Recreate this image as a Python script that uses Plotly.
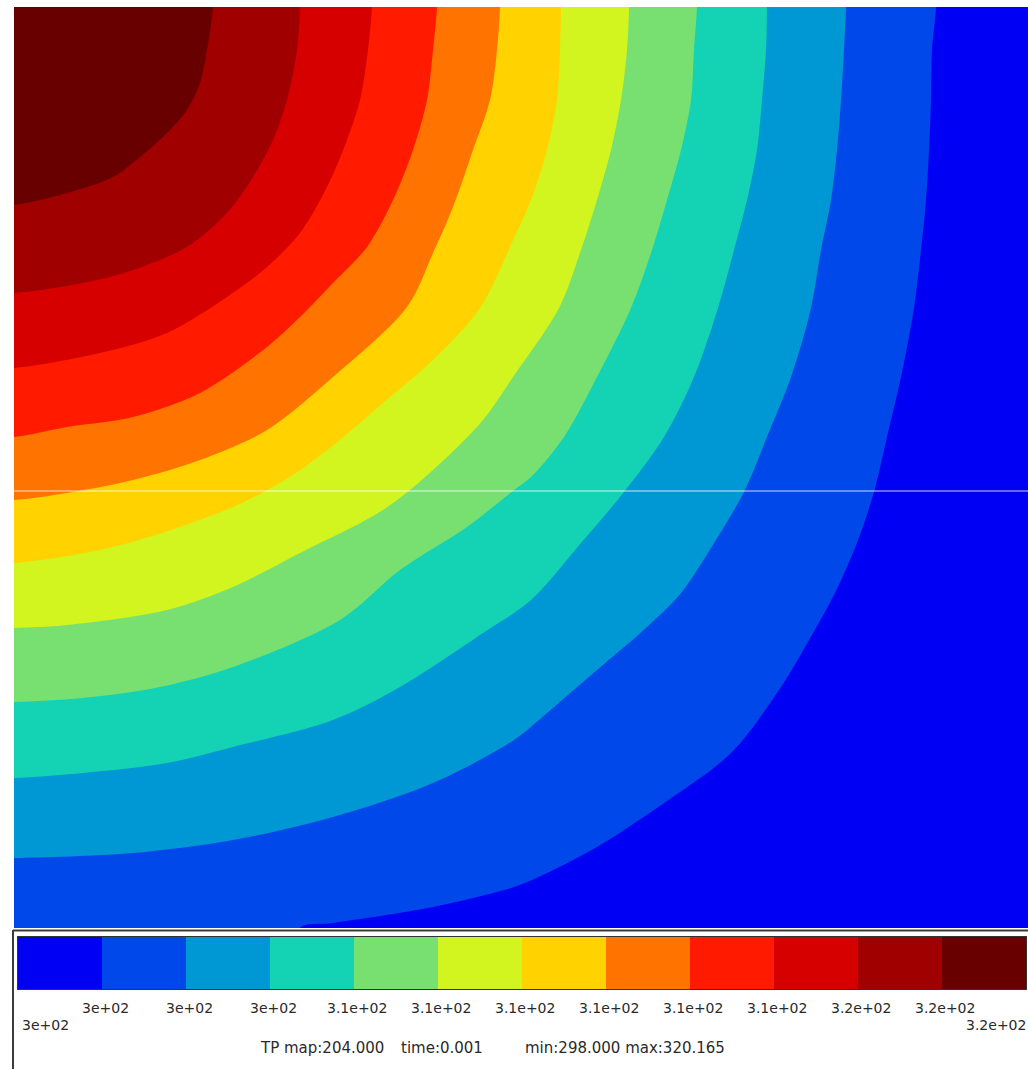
import numpy as np
import plotly.graph_objects as go

# ---- map metadata -------------------------------------------------------
T_MIN = 298.000
T_MAX = 320.165
TP_MAP = 204.000
TIME = 0.001

# section extent (surface length, depth) in grid units
WIDTH = 1014
DEPTH = 921

# 12 discrete bands, coldest to hottest
band_colors = ["#0000F5", "#0048EA", "#0098D4", "#14D2B4", "#78E070", "#D2F520",
               "#FFD200", "#FF7300", "#FF1A00", "#D70000", "#A00000", "#690000"]

levels = np.linspace(T_MIN, T_MAX, len(band_colors) + 1)

# ---- isotherms between neighbouring bands (x along surface, d = depth) --
iso01_x = [922, 918, 917, 915, 912, 907, 900, 887, 873, 860, 843, 821, 799, 767, 717, 650, 583, 533, 500, 419, 319, 286]
iso01_d = [0, 43, 93, 143, 193, 243, 301, 370, 430, 485, 536, 586, 626, 680, 746, 796, 840, 866, 880, 900, 916, 921]

iso02_x = [832, 830, 827, 823, 817, 807, 797, 777, 753, 730, 700, 667, 633, 583, 533, 500, 419, 319, 219, 119, 0]
iso02_d = [0, 43, 93, 143, 193, 243, 301, 370, 430, 485, 536, 586, 620, 663, 706, 733, 776, 810, 833, 846, 851]

iso03_x = [753, 752, 748, 743, 733, 720, 704, 680, 650, 610, 567, 517, 469, 386, 319, 219, 153, 69, 0]
iso03_d = [0, 43, 93, 143, 193, 243, 301, 370, 430, 485, 536, 593, 626, 680, 713, 740, 756, 766, 771]

iso04_x = [683, 680, 677, 667, 653, 638, 617, 583, 550, 517, 500, 453, 386, 326, 219, 146, 69, 0]
iso04_d = [0, 43, 93, 143, 193, 243, 301, 370, 430, 470, 483, 520, 563, 613, 660, 680, 691, 695]

iso05_x = [615, 613, 607, 597, 583, 567, 545, 499, 469, 419, 369, 286, 219, 153, 53, 0]
iso05_d = [0, 43, 93, 143, 193, 243, 301, 370, 413, 463, 503, 546, 580, 603, 618, 621]

iso06_x = [547, 546, 543, 533, 517, 500, 466, 419, 369, 322, 282, 228, 157, 86, 0]
iso06_d = [0, 43, 93, 143, 193, 231, 301, 353, 396, 436, 466, 496, 523, 543, 556]

iso07_x = [486, 483, 476, 459, 439, 419, 393, 319, 253, 186, 119, 53, 0]
iso07_d = [0, 43, 93, 143, 200, 246, 300, 370, 423, 453, 473, 486, 493]

iso08_x = [423, 419, 413, 399, 379, 353, 319, 286, 253, 186, 119, 53, 0]
iso08_d = [0, 43, 93, 143, 193, 240, 276, 310, 340, 386, 410, 420, 430]

iso09_x = [358, 354, 346, 333, 313, 286, 253, 213, 153, 86, 0]
iso09_d = [0, 43, 93, 133, 180, 226, 260, 290, 326, 346, 361]

iso10_x = [286, 283, 273, 259, 239, 213, 173, 119, 69, 0]
iso10_d = [0, 43, 93, 133, 170, 206, 240, 263, 276, 286]

iso11_x = [199, 193, 186, 173, 153, 126, 99, 53, 0]
iso11_d = [0, 43, 76, 103, 126, 150, 170, 186, 198]

isotherms = [
    (iso01_x, iso01_d), (iso02_x, iso02_d), (iso03_x, iso03_d), (iso04_x, iso04_d),
    (iso05_x, iso05_d), (iso06_x, iso06_d), (iso07_x, iso07_d), (iso08_x, iso08_d),
    (iso09_x, iso09_d), (iso10_x, iso10_d), (iso11_x, iso11_d),
]

# depth of the horizontal mesh seam
SEAM_D = 484


def hot_side(xs, ds, pad=40):
    """Closed outline of the region on the heated-corner side of an isotherm.

    The outline is routed outside the visible section so that spline
    smoothing only rounds the isotherm itself, never the section corners.
    """
    px = [-pad, xs[0]] + list(xs)
    py = [-pad, -pad] + list(ds)
    if xs[-1] > 0:  # isotherm leaves through the bottom boundary
        px += [xs[-1], -pad]
        py += [DEPTH + pad, DEPTH + pad]
    else:           # isotherm leaves through the left boundary
        px += [-pad]
        py += [ds[-1]]
    px.append(-pad)
    py.append(-pad)
    return px, py


W, H = 1028, 1069
fig = go.Figure()

# filled temperature bands, nested from the coolest outward band inward
for k, (xs, ds) in enumerate(isotherms, start=1):
    px, py = hot_side(xs, ds)
    fig.add_trace(go.Scatter(
        x=px, y=py, mode="lines", fill="toself",
        fillcolor=band_colors[k],
        line=dict(width=0, color=band_colors[k], shape="spline", smoothing=0.9),
        hoverinfo="skip", showlegend=False, xaxis="x", yaxis="y",
    ))

# discrete colour legend strip
n = len(band_colors)
stepped = []
for i, c in enumerate(band_colors):
    stepped += [[i / n, c], [(i + 1) / n, c]]
mids = [(levels[i] + levels[i + 1]) / 2 for i in range(n)]
fig.add_trace(go.Heatmap(
    z=[mids], x=list(levels), y=[0, 1],
    colorscale=stepped, zmin=T_MIN, zmax=T_MAX, showscale=False,
    hoverinfo="skip", xaxis="x2", yaxis="y2",
))

# level labels: ends on the lower row, interior boundaries on the upper row
lab_font = dict(family="DejaVu Sans", size=14, color="#2a2a2a")
y_up = 1 - 1008 / H
y_low = 1 - 1025 / H
annotations = []
for i, v in enumerate(levels):
    txt = format(v, ".2g")
    if i == 0:
        annotations.append(dict(x=v, xref="x2", y=y_low, yref="paper", text=txt,
                                xanchor="left", yanchor="middle", xshift=2,
                                showarrow=False, font=lab_font))
    elif i == len(levels) - 1:
        annotations.append(dict(x=v, xref="x2", y=y_low, yref="paper", text=txt,
                                xanchor="right", yanchor="middle", xshift=2,
                                showarrow=False, font=lab_font))
    else:
        annotations.append(dict(x=v, xref="x2", y=y_up, yref="paper", text=txt,
                                xanchor="center", yanchor="middle", xshift=3,
                                showarrow=False, font=lab_font))

info_font = dict(family="DejaVu Sans", size=15, color="#2a2a2a")
y_info = 1 - 1048 / H
for xpix, txt in [
    (258, f"TP map:{TP_MAP:.3f}"),
    (399, f"time:{TIME:.3f}"),
    (523, f"min:{T_MIN:.3f} max:{T_MAX:.3f}"),
]:
    annotations.append(dict(x=xpix / W, xref="paper", y=y_info, yref="paper", text=txt,
                            xanchor="left", yanchor="middle", showarrow=False,
                            font=info_font))

shapes = [
    # faint mesh seam across the section
    dict(type="line", xref="x domain", x0=0, x1=1, yref="y", y0=SEAM_D, y1=SEAM_D,
         line=dict(color="rgba(255,255,255,0.8)", width=1)),
    # legend panel frame
    dict(type="line", xref="paper", yref="paper", x0=13 / W, x1=1,
         y0=1 - 930.5 / H, y1=1 - 930.5 / H, line=dict(color="#3a3a3a", width=2)),
    dict(type="line", xref="paper", yref="paper", x0=13 / W, x1=13 / W,
         y0=0, y1=1 - 930 / H, line=dict(color="#3a3a3a", width=2)),
]

hidden = dict(visible=False, showgrid=False, zeroline=False, fixedrange=True)
fig.update_layout(
    width=W, height=H, autosize=False,
    margin=dict(l=0, r=0, t=0, b=0),
    paper_bgcolor="white",
    plot_bgcolor=band_colors[0],
    xaxis=dict(domain=[14 / W, 1], range=[0, WIDTH], **hidden),
    yaxis=dict(domain=[1 - 928 / H, 1 - 7 / H], range=[DEPTH, 0], **hidden),
    xaxis2=dict(domain=[18 / W, 1026 / W], range=[T_MIN, T_MAX], anchor="y2",
                showgrid=False, zeroline=False, showticklabels=False, ticks="",
                showline=True, mirror=True, linecolor="#333333", linewidth=1,
                fixedrange=True),
    yaxis2=dict(domain=[1 - 989 / H, 1 - 937 / H], range=[0, 1], anchor="x2",
                showgrid=False, zeroline=False, showticklabels=False, ticks="",
                showline=True, mirror=True, linecolor="#333333", linewidth=1,
                fixedrange=True),
    annotations=annotations,
    shapes=shapes,
    showlegend=False,
)

fig.write_html("out.html")
